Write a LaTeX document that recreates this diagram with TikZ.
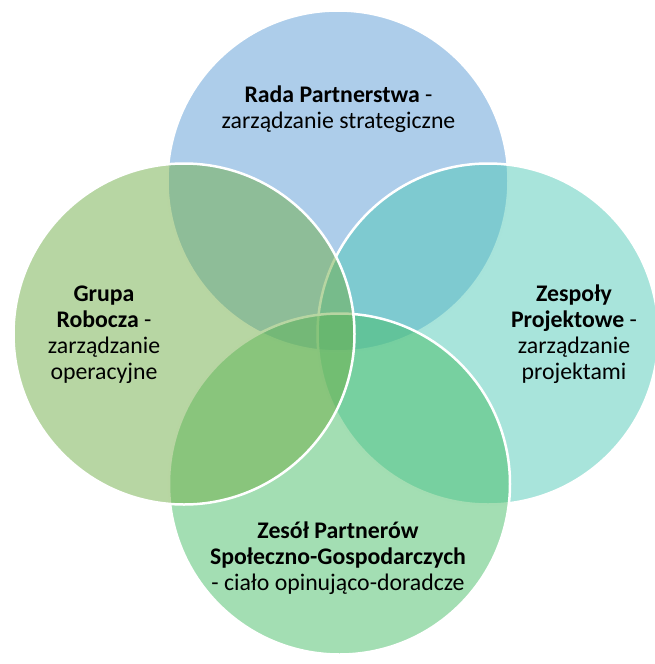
\documentclass[tikz,border=0pt]{standalone}
\usepackage{fontspec}
\setmainfont{Carlito}
\definecolor{cTop}{HTML}{5B9BD5}
\definecolor{cRight}{HTML}{51C9B7}
\definecolor{cBottom}{HTML}{47BD67}
\definecolor{cLeft}{HTML}{70AD47}
\begin{document}
\begin{tikzpicture}[x=1pt,y=-1pt,
  venn/.style={circle, draw=white, line width=2.5pt, fill opacity=0.5, minimum size=341pt, inner sep=0pt},
  lbl/.style={anchor=base, inner sep=0pt, text=black, font=\fontsize{23.8}{26}\selectfont}]
\useasboundingbox (0,0) rectangle (655,664);
\clip (0,0) rectangle (655,664);
\node[venn, fill=cTop] (top) at (338,181) {};
\node[venn, fill=cRight] (right) at (488,334) {};
\node[venn, fill=cBottom] (bottom) at (339.5,484) {};
\node[venn, fill=cLeft] (left) at (184,334) {};
% top text
\node[lbl] (t1) at (338.5,102) {\textbf{Rada Partnerstwa} -};
\node[lbl] (t2) at (338.5,128) {zarządzanie strategiczne};
% left text
\node[lbl] (l1) at (104,301) {\textbf{Grupa}};
\node[lbl] (l2) at (104,327) {\textbf{Robocza} -};
\node[lbl] (l3) at (104,353) {zarządzanie};
\node[lbl] (l4) at (104,379) {operacyjne};
% right text
\node[lbl] (r1) at (574,301) {\textbf{Zespoły}};
\node[lbl] (r2) at (574,327) {\textbf{Projektowe} -};
\node[lbl] (r3) at (574,353) {zarządzanie};
\node[lbl] (r4) at (574,379) {projektami};
% bottom text
\node[lbl] (b1) at (338,538) {\textbf{Zesół Partnerów}};
\node[lbl] (b2) at (338,564) {\textbf{Społeczno-Gospodarczych}};
\node[lbl] (b3) at (338,590) {- ciało opinująco-doradcze};
\end{tikzpicture}
\end{document}
